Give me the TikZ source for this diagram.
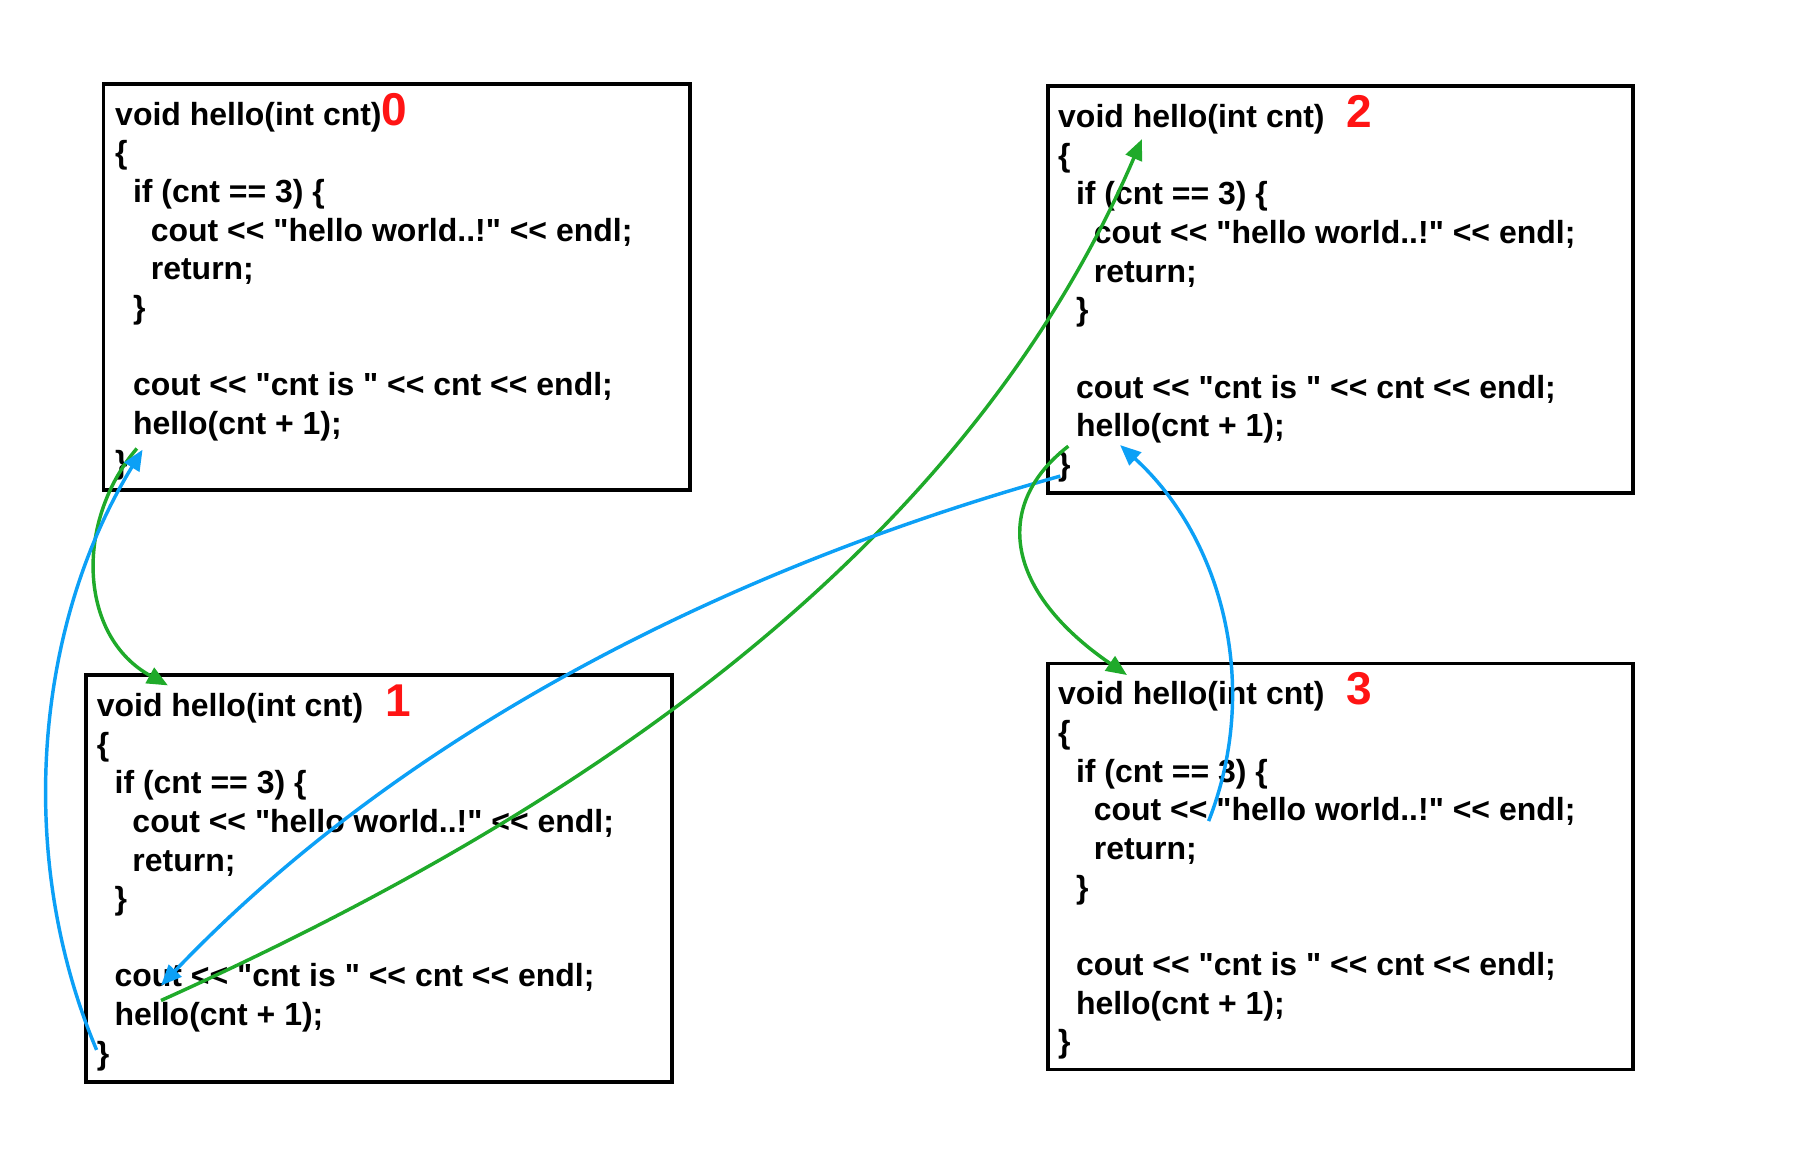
\documentclass[tikz,border=0pt]{standalone}
\usepackage{fontspec}
\newfontfamily\codefont{Liberation Sans}
\usetikzlibrary{arrows.meta}
\definecolor{cgreen}{RGB}{31,170,42}
\definecolor{cblue}{RGB}{12,160,246}
\definecolor{cred}{RGB}{255,20,20}
\newcommand\indA{\hspace*{15.5pt}}
\newcommand\indB{\hspace*{31pt}}
\newcommand\numlabel[1]{\textcolor{cred}{\fontsize{40}{40}\selectfont #1}}
\newcommand\codebody[1]{void hello(int cnt)#1\\ \{\\ \indA if (cnt == 3) \{\\ \indB cout << "hello world..!" << endl;\\ \indB return;\\ \indA\}\\[33.6pt] \indA cout << "cnt is " << cnt << endl;\\ \indA hello(cnt + 1);\\ \}}
\begin{document}
\begin{tikzpicture}[x=1pt,y=-1pt,
  codebox/.style={draw, line width=3.4pt, inner sep=0pt, fill=none},
  code/.style={inner sep=0pt, align=left, anchor=base west,
    font=\codefont\bfseries\fontsize{27.8}{33.6}\selectfont},
  gconn/.style={draw=cgreen, line width=3pt, -{Triangle[length=18pt,width=15pt]}, cgreen},
  bconn/.style={draw=cblue, line width=3pt, -{Triangle[length=18pt,width=15pt]}, cblue}]
\useasboundingbox (0,0) rectangle (1567,1015.6);
% boxes
\node[codebox, minimum width=510pt, minimum height=353pt] (b0) at (345,249.5) {};
\node[codebox, minimum width=509pt, minimum height=354pt] (b2) at (1165.5,252) {};
\node[codebox, minimum width=509pt, minimum height=354pt] (b1) at (329.5,764) {};
\node[codebox, minimum width=509pt, minimum height=353pt] (b3) at (1165.5,753.5) {};
% code (anchored at the baseline of the last line)
\node[code] (t0) at (100,411.4) {\codebody{\hspace{0pt}\numlabel{0}}};
\node[code] (t2) at (920,413.4) {\codebody{\hspace{19pt}\numlabel{2}}};
\node[code] (t1) at (84,925.4) {\codebody{\hspace{19pt}\numlabel{1}}};
\node[code] (t3) at (920,915.4) {\codebody{\hspace{19pt}\numlabel{3}}};
% connector ends
\coordinate (g0s) at (119,390);
\coordinate (g0e) at (146,596);
\coordinate (b1s) at (84,913);
\coordinate (b1e) at (124,391);
\coordinate (g1s) at (140,870);
\coordinate (g1e) at (993,121);
\coordinate (b2s) at (922,414);
\coordinate (b2e) at (140,857);
\coordinate (g2s) at (929,388);
\coordinate (g2e) at (980,587);
\coordinate (b3s) at (1051,714);
\coordinate (b3e) at (974,387);
% connectors
\draw[gconn] (g0s) .. controls (65,453) and (68,553) .. (g0e);
\draw[bconn] (b1s) .. controls (13,745) and (30,544) .. (b1e);
\draw[gconn] (g1s) .. controls (489,713) and (835,489) .. (g1e);
\draw[bconn] (b2s) .. controls (632,495) and (351,636) .. (b2e);
\draw[gconn] (g2s) .. controls (862,440) and (875,515) .. (g2e);
\draw[bconn] (b3s) .. controls (1097,597) and (1063,468) .. (b3e);
\end{tikzpicture}
\end{document}
